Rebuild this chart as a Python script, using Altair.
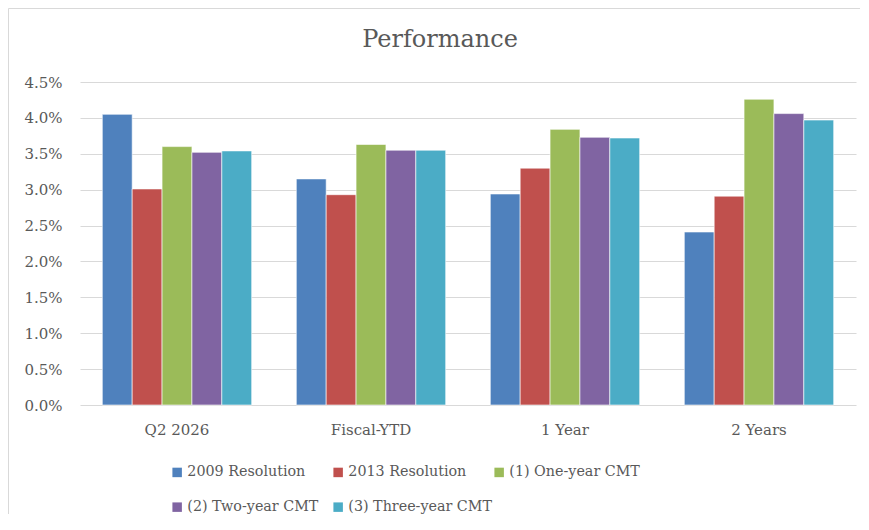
import altair as alt
import pandas as pd

title_text = ["Performance"]
categories = ["Q2 2026", "Fiscal-YTD", "1 Year", "2 Years"]
series = ["2009 Resolution", "2013 Resolution", "(1) One-year CMT",
          "(2) Two-year CMT", "(3) Three-year CMT"]
colors = ["#4F81BD", "#C0504D", "#9BBB59", "#8064A2", "#4BACC6"]

# values in percent, per series, by category
s2009 = [4.05, 3.15, 2.94, 2.41]
s2013 = [3.01, 2.93, 3.30, 2.91]
s1yr = [3.60, 3.63, 3.84, 4.26]
s2yr = [3.52, 3.55, 3.73, 4.06]
s3yr = [3.54, 3.55, 3.72, 3.97]
y_ticks = [0.0, 0.5, 1.0, 1.5, 2.0, 2.5, 3.0, 3.5, 4.0, 4.5]

rows = []
for name, vals in zip(series, [s2009, s2013, s1yr, s2yr, s3yr]):
    for c, v in zip(categories, vals):
        rows.append({"category": c, "series": name, "value": v})
df = pd.DataFrame(rows)

FONT = "DejaVu Serif"
GRAY = "#595959"
GRID = "#D9D9D9"

bars = alt.Chart(df).mark_bar(stroke="white", strokeWidth=0.6).encode(
    x=alt.X("category:N", sort=categories, title=None,
            scale=alt.Scale(paddingInner=0.23, paddingOuter=0.115),
            axis=alt.Axis(labelAngle=0, ticks=False, domain=False,
                          labelPadding=17, labelFont=FONT, labelFontSize=15,
                          labelColor=GRAY)),
    xOffset=alt.XOffset("series:N", sort=series,
                        scale=alt.Scale(paddingInner=0, paddingOuter=0)),
    y=alt.Y("value:Q", title=None,
            scale=alt.Scale(domain=[0, 4.5], nice=False),
            axis=alt.Axis(values=y_ticks, ticks=False, domain=False,
                          labelExpr="format(datum.value, '.1f') + '%'",
                          labelPadding=18, minExtent=60, maxExtent=60,
                          labelFont=FONT, labelFontSize=15, labelColor=GRAY,
                          gridColor=GRID, gridWidth=1.2)),
    color=alt.Color("series:N", sort=series,
                    scale=alt.Scale(domain=series, range=colors),
                    legend=alt.Legend(orient="none", legendX=90, legendY=383,
                                      direction="horizontal",
                                      columns=3, gridAlign="all",
                                      columnPadding=0, rowPadding=20,
                                      symbolType="square", symbolSize=90,
                                      symbolStrokeWidth=0, labelOffset=3,
                                      labelFont=FONT, labelFontSize=14.3,
                                      labelColor=GRAY, title=None, padding=0)),
)

border_df = pd.DataFrame({"a": [0]})
left_border = alt.Chart(border_df).mark_rule(color=GRID, strokeWidth=1).encode(
    x=alt.value(-71.5), y=alt.value(-73.5), y2=alt.value(432))
top_border = alt.Chart(border_df).mark_rule(color=GRID, strokeWidth=1).encode(
    x=alt.value(-71.5), x2=alt.value(780), y=alt.value(-73.5))

title_df = pd.DataFrame({"t": title_text})
title = alt.Chart(title_df).mark_text(
    font=FONT, fontSize=24, color=GRAY, align="center",
    baseline="alphabetic").encode(
    text="t:N", x=alt.value(360), y=alt.value(-35))

chart = alt.layer(left_border, top_border, title, bars).properties(
    width=776, height=323,
    padding={"left": 0, "top": 0, "right": 0, "bottom": 0},
).configure_view(stroke=None)

chart.save("out.html", embed_options={"renderer": "svg", "actions": False})
